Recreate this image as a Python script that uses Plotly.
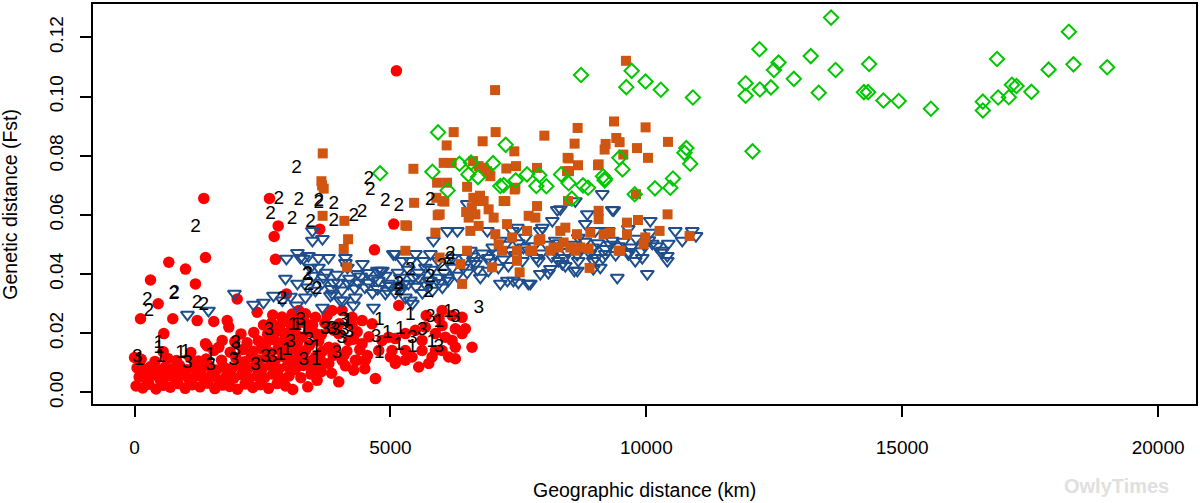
import plotly.graph_objects as go

# ---------------- data (geographic distance km, genetic distance Fst) ----------------
red_points = [
    (5117, 0.1087), (1354, 0.0656), (2637, 0.0656), (2807, 0.0563), (2729, 0.0527),
    (3620, 0.0552), (5065, 0.0569), (4688, 0.0482), (2754, 0.0450), (670, 0.0440),
    (996, 0.0417), (1387, 0.0456), (312, 0.0380), (1191, 0.0367), (463, 0.0300),
    (117, 0.0249), (748, 0.0249), (1224, 0.0243), (1549, 0.0240), (2006, 0.0316),
    (2396, 0.0271), (572, 0.0199), (1419, 0.0157), (2969, 0.0333), (3763, 0.0260),
    (5163, 0.0294), (1387, 0.0165), (1713, 0.0176), (1647, 0.0153), (1811, 0.0243),
    (1843, 0.0221),
    (6010, 0.0277), (6205, 0.0260), (6400, 0.0254), (6010, 0.0226), (6269, 0.0215),
    (6464, 0.0215), (6074, 0.0187), (6269, 0.0153), (6595, 0.0153), (6269, 0.0114),
    (5879, 0.0142), (5748, 0.0098), (5553, 0.0086), (5292, 0.0142), (5097, 0.0109),
    (5032, 0.0142), (4642, 0.0232), (4447, 0.0243), (4251, 0.0254), (4056, 0.0277),
    (3861, 0.0277), (3535, 0.0254), (3340, 0.0266), (3209, 0.0277), (4316, 0.0109),
    (4511, 0.0109), (4707, 0.0047), (3990, 0.0036), (4967, 0.0187), (5292, 0.0199),
    (5488, 0.0210), (5683, 0.0221), (5097, 0.0182), (4837, 0.0176), (4772, 0.0142),
    (5000, 0.0120), (5097, 0.0098), (5292, 0.0109), (5423, 0.0120), (5618, 0.0142),
    (5814, 0.0120), (6010, 0.0142), (6139, 0.0120), (6205, 0.0176), (6400, 0.0199),
    (5879, 0.0199), (5618, 0.0176), (3796, 0.0221), (3990, 0.0199), (4186, 0.0176),
    (4447, 0.0165), (3796, 0.0153), (3535, 0.0199), (3144, 0.0199), (3275, 0.0187),
    (3340, 0.0142), (3535, 0.0120), (3796, 0.0098), (4056, 0.0109), (3535, 0.0086),
    (3177, 0.0086), (3697, 0.0098), (4349, 0.0109), (4283, 0.0075), (3092, 0.0010),
    (3385, 0.0019), (3568, 0.0041), (2787, 0.0030), (5700, 0.0260), (5950, 0.0250),
    # dense band
    (30, 0.0022), (160, 0.0015), (280, 0.0028), (420, 0.0012), (560, 0.0024), (700, 0.0018),
    (850, 0.0030), (990, 0.0014), (1130, 0.0026), (1280, 0.0019), (1430, 0.0031), (1570, 0.0013),
    (1720, 0.0025), (1860, 0.0020), (2010, 0.0011), (2160, 0.0029), (2310, 0.0017), (2460, 0.0026),
    (2620, 0.0014), (2950, 0.0022),
    (90, 0.0052), (230, 0.0047), (360, 0.0058), (500, 0.0044), (640, 0.0055), (780, 0.0049),
    (920, 0.0061), (1060, 0.0045), (1200, 0.0056), (1350, 0.0050), (1500, 0.0059), (1640, 0.0043),
    (1790, 0.0054), (1940, 0.0048), (2090, 0.0060), (2240, 0.0046), (2390, 0.0055), (2540, 0.0050),
    (2700, 0.0062), (2860, 0.0047), (3020, 0.0056), (3250, 0.0050), (3450, 0.0062),
    (50, 0.0083), (190, 0.0078), (320, 0.0088), (460, 0.0075), (600, 0.0086), (740, 0.0080),
    (880, 0.0091), (1020, 0.0077), (1160, 0.0087), (1310, 0.0079), (1460, 0.0090), (1600, 0.0076),
    (1750, 0.0085), (1900, 0.0081), (2050, 0.0092), (2200, 0.0077), (2350, 0.0088), (2500, 0.0082),
    (2660, 0.0093), (2820, 0.0079), (2980, 0.0089), (3130, 0.0078), (3300, 0.0091), (3460, 0.0080),
    (3650, 0.0070), (3850, 0.0065), (4120, 0.0090), (4500, 0.0080),
    (0, 0.0118), (130, 0.0112), (400, 0.0105), (650, 0.0115), (820, 0.0108), (1080, 0.0119),
    (1250, 0.0106), (1400, 0.0113), (1700, 0.0109), (1980, 0.0117), (2150, 0.0104), (2280, 0.0121),
    (2430, 0.0110), (2580, 0.0118), (2740, 0.0106), (2900, 0.0122), (3060, 0.0111), (3200, 0.0118),
    (3400, 0.0106), (3620, 0.0117), (3880, 0.0125), (4100, 0.0128), (4550, 0.0125),
    (560, 0.0138), (1100, 0.0135), (1550, 0.0142), (1870, 0.0136), (2120, 0.0145), (2320, 0.0139),
    (2480, 0.0148), (2620, 0.0137), (2800, 0.0146), (2950, 0.0140), (3100, 0.0149), (3260, 0.0136),
    (3420, 0.0160), (3680, 0.0140), (3920, 0.0150), (4150, 0.0140), (4400, 0.0145),
    (1960, 0.0172), (2200, 0.0168), (2420, 0.0175), (2570, 0.0166), (2720, 0.0178), (2870, 0.0169),
    (3020, 0.0177), (3180, 0.0165), (3600, 0.0174), (4280, 0.0180), (4580, 0.0188),
    (2080, 0.0198), (2330, 0.0203), (2600, 0.0197), (2760, 0.0205), (2920, 0.0200), (3060, 0.0210),
    (3400, 0.0205), (3650, 0.0195), (3900, 0.0210), (4350, 0.0205),
    (2520, 0.0228), (2680, 0.0235), (2840, 0.0226), (3000, 0.0238), (3170, 0.0230), (3330, 0.0236),
    (3480, 0.0228), (3720, 0.0235), (4000, 0.0232), (4250, 0.0228),
    (2700, 0.0262), (2880, 0.0255), (3080, 0.0265), (3280, 0.0250),
]

blue_points = [
    (1035, 0.0263), (1445, 0.0277), (1953, 0.0334), (2324, 0.0297), (2519, 0.0304),
    (2715, 0.0327), (2890, 0.0311), (3047, 0.0324), (3164, 0.0294),
    (2968, 0.0452), (3183, 0.0472), (3300, 0.0452), (3476, 0.0546), (3476, 0.0513),
    (3672, 0.0519), (3437, 0.0422), (3594, 0.0422), (2949, 0.0385), (3183, 0.0368),
    (3379, 0.0355), (3691, 0.0388), (3886, 0.0371), (4121, 0.0438), (4160, 0.0422),
    (4355, 0.0401), (4550, 0.0404), (4746, 0.0412), (3672, 0.0287), (4668, 0.0287),
    (4277, 0.0294), (4023, 0.0311), (3828, 0.0327), (3535, 0.0344),
    (3242, 0.0455), (3398, 0.0462), (3594, 0.0455), (3789, 0.0455), (4121, 0.0455),
    (4453, 0.0435), (4843, 0.0412), (5097, 0.0468), (5234, 0.0445), (5488, 0.0468),
    (5683, 0.0422), (5937, 0.0445), (6210, 0.0455), (6464, 0.0455), (6660, 0.0435),
    (6914, 0.0455),
    (3672, 0.0371), (3984, 0.0371), (4179, 0.0368), (4374, 0.0371), (4570, 0.0371),
    (4765, 0.0378), (4961, 0.0368), (5156, 0.0355), (5351, 0.0368), (5547, 0.0388),
    (5742, 0.0378), (5937, 0.0388), (6130, 0.0378),
    (3339, 0.0321), (3867, 0.0334), (4082, 0.0311), (4316, 0.0321), (4648, 0.0337),
    (4902, 0.0334), (5097, 0.0337), (5292, 0.0321), (5429, 0.0300), (5625, 0.0337),
    (5820, 0.0344), (6015, 0.0355),
    (5058, 0.0468), (4804, 0.0412), (4941, 0.0344), (5195, 0.0344), (5390, 0.0311),
    (5840, 0.0513), (6113, 0.0546), (6308, 0.0546), (6503, 0.0637), (6621, 0.0445),
    (6914, 0.0412), (7109, 0.0422), (7285, 0.0378), (7500, 0.0371), (7734, 0.0368),
    (7929, 0.0401), (8125, 0.0418), (8359, 0.0435), (8652, 0.0412), (8964, 0.0445),
    (9101, 0.0422), (9433, 0.0388), (10019, 0.0401), (10410, 0.0445), (10566, 0.0546),
    (10077, 0.0580), (9140, 0.0671), (8847, 0.0603), (8320, 0.0620), (7929, 0.0546),
    (7480, 0.0557), (6894, 0.0546), (6562, 0.0479), (5644, 0.0445), (5390, 0.0445),
    (5781, 0.0468), (6113, 0.0445), (6210, 0.0422), (6425, 0.0422), (6757, 0.0388),
    (6113, 0.0388), (5781, 0.0378), (5449, 0.0388), (5195, 0.0388),
    (9335, 0.0617), (8261, 0.0617), (8613, 0.0647), (10898, 0.0546), (10410, 0.0462),
    (10312, 0.0479), (8964, 0.0418), (8593, 0.0412), (8417, 0.0428), (8085, 0.0404),
    (7695, 0.0368), (7402, 0.0378), (7148, 0.0368), (9921, 0.0455), (9784, 0.0445),
    (9648, 0.0468), (9199, 0.0468), (9003, 0.0455), (8671, 0.0445), (8281, 0.0445),
    (7890, 0.0445), (7578, 0.0445), (7304, 0.0428), (7968, 0.0557), (8164, 0.0580),
    (8808, 0.0570), (9003, 0.0546), (9257, 0.0546), (9648, 0.0553), (10077, 0.0540),
    (8671, 0.0523), (9335, 0.0513), (8222, 0.0513), (7636, 0.0523), (7382, 0.0546),
    (7148, 0.0513), (10116, 0.0503), (10429, 0.0503), (10702, 0.0513), (10970, 0.0529),
    (9363, 0.0616), (10293, 0.0473),
    (3500, 0.0395), (3750, 0.0405), (3950, 0.0398), (4200, 0.0385), (4420, 0.0392),
    (4680, 0.0385), (4900, 0.0395), (5150, 0.0405), (5350, 0.0415), (5550, 0.0405),
    (5800, 0.0415), (6050, 0.0405), (6300, 0.0395), (6500, 0.0405), (6700, 0.0415),
    (6950, 0.0440), (7200, 0.0450), (7450, 0.0465), (7700, 0.0480), (7950, 0.0470),
    (8200, 0.0480), (8450, 0.0475), (8700, 0.0485), (8950, 0.0490), (9200, 0.0485),
    (9450, 0.0495), (9700, 0.0490), (9950, 0.0500), (10200, 0.0495),
    (3850, 0.0350), (4050, 0.0345), (4300, 0.0352), (4500, 0.0355), (4750, 0.0350),
    (5000, 0.0360), (5250, 0.0365), (5500, 0.0358), (5700, 0.0362), (5950, 0.0370),
    (7000, 0.0490), (7250, 0.0500), (7500, 0.0505), (7800, 0.0495), (8050, 0.0500),
    (8300, 0.0505), (8550, 0.0500), (8800, 0.0510), (9050, 0.0505), (9300, 0.0500),
    (9550, 0.0510), (9800, 0.0520), (10050, 0.0515),
    (6600, 0.0460), (6800, 0.0470), (7050, 0.0470), (7350, 0.0480), (7600, 0.0490),
    (7850, 0.0455), (8150, 0.0460), (8400, 0.0455), (8650, 0.0465), (8900, 0.0470),
    (9150, 0.0455), (9400, 0.0465), (9650, 0.0475), (9900, 0.0478),
]

orange_points = [
    (9602, 0.1121), (7045, 0.1022), (6236, 0.0880), (7056, 0.0880), (8008, 0.0868),
    (9369, 0.0916), (8658, 0.0894), (9986, 0.0896), (10423, 0.0847), (6802, 0.0849),
    (6099, 0.0835), (7421, 0.0815), (8599, 0.0841), (9413, 0.0860), (9478, 0.0846),
    (9205, 0.0840), (9185, 0.0821), (9818, 0.0826), (10033, 0.0793), (9550, 0.0804),
    (8462, 0.0793), (8665, 0.0768), (9056, 0.0768), (3678, 0.0808), (3652, 0.0714),
    (3697, 0.0689), (3665, 0.0700), (3675, 0.0597), (4101, 0.0580), (4173, 0.0518),
    (4088, 0.0485), (4154, 0.0423), (5449, 0.0756), (6041, 0.0776), (6197, 0.0776),
    (6615, 0.0782), (6822, 0.0759), (6953, 0.0731), (7265, 0.0757), (7454, 0.0765),
    (7864, 0.0759), (8490, 0.0748), (5912, 0.0709), (6107, 0.0709), (6498, 0.0695),
    (7427, 0.0686), (9798, 0.0670), (5463, 0.0641), (5292, 0.0565), (6014, 0.0647),
    (5924, 0.0599), (5879, 0.0540), (6693, 0.0647), (6660, 0.0602), (6724, 0.0563),
    (6919, 0.0742), (6724, 0.0765), (6888, 0.0748), (7441, 0.0692), (8482, 0.0791),
    (8451, 0.0748), (9069, 0.0771),
    (5898, 0.0658), (5962, 0.0602), (6054, 0.0645), (5326, 0.0563), (5292, 0.0479),
    (5962, 0.0456), (6400, 0.0367),
    (6529, 0.0591), (6562, 0.0546), (6498, 0.0479), (6367, 0.0434), (6822, 0.0647),
    (6919, 0.0619), (7017, 0.0591), (7050, 0.0535), (7115, 0.0501), (6986, 0.0423),
    (7212, 0.0647), (7279, 0.0569), (7377, 0.0524), (7474, 0.0479), (7474, 0.0445),
    (7525, 0.0406), (7670, 0.0546), (7865, 0.0630), (7832, 0.0591), (7896, 0.0513),
    (7767, 0.0479), (8189, 0.0490), (8320, 0.0546), (8418, 0.0557), (8384, 0.0507),
    (8515, 0.0490), (8646, 0.0535), (8710, 0.0490), (8906, 0.0540), (8873, 0.0485),
    (9068, 0.0614), (9068, 0.0586), (9166, 0.0535), (9296, 0.0540), (9492, 0.0479),
    (9622, 0.0574), (9622, 0.0535), (9837, 0.0583), (9980, 0.0524), (9947, 0.0501),
    (10259, 0.0546), (10415, 0.0602), (8892, 0.0421), (10845, 0.0529), (7929, 0.0518),
    (8125, 0.0479), (8613, 0.0479), (9459, 0.0479), (7734, 0.0479), (8287, 0.0490),
    (7245, 0.0647), (7701, 0.0597), (8470, 0.0647), (7181, 0.0479),
    (6620, 0.0658), (6750, 0.0665), (6590, 0.0625), (6480, 0.0610),
]

green_points = [
    (13610, 0.1267), (18256, 0.1219), (12210, 0.1160), (13212, 0.1137), (16852, 0.1127),
    (14354, 0.1110), (12583, 0.1115), (12493, 0.1090), (13698, 0.1090), (18346, 0.1109),
    (19004, 0.1099), (17860, 0.1091), (12882, 0.1060), (11940, 0.1045), (11940, 0.1003),
    (12218, 0.1024), (12435, 0.1031), (13368, 0.1013), (14251, 0.1015), (14333, 0.1015),
    (14632, 0.0987), (14931, 0.0985), (15560, 0.0959), (16575, 0.0983), (16575, 0.0953),
    (16874, 0.0997), (17083, 0.0998), (17143, 0.1040), (17233, 0.1036), (17524, 0.1016),
    (10910, 0.0997), (10283, 0.1023), (9984, 0.1051), (9609, 0.1032), (9714, 0.1087),
    (12075, 0.0815), (10782, 0.0826), (10745, 0.0810), (10857, 0.0773), (9474, 0.0793),
    (9534, 0.0754), (9191, 0.0722), (10521, 0.0723), (10468, 0.0692), (10169, 0.0690),
    (9773, 0.0670),
    (8724, 0.1073), (5931, 0.0879), (7252, 0.0837), (4798, 0.0741), (5820, 0.0746),
    (6348, 0.0773), (6575, 0.0777), (7005, 0.0775), (6523, 0.0737), (6712, 0.0728),
    (7148, 0.0698), (7213, 0.0701), (7447, 0.0717), (7669, 0.0737), (7910, 0.0734),
    (7851, 0.0698), (8047, 0.0697), (8334, 0.0737), (8482, 0.0707), (8763, 0.0700),
    (8861, 0.0692), (9154, 0.0731), (9186, 0.0717), (6119, 0.0683), (8545, 0.0655),
]

label_ones = [
    (84, 0.0109), (475, 0.0165), (475, 0.0150), (508, 0.0120), (898, 0.0131), (996, 0.0137),
    (1484, 0.0126), (2851, 0.0126), (2982, 0.0142), (3099, 0.0226), (3177, 0.0226),
    (3307, 0.0215), (3554, 0.0153), (3554, 0.0109), (4784, 0.0243), (4940, 0.0199),
    (4784, 0.0131), (5195, 0.0215), (5163, 0.0159), (5390, 0.0260), (5429, 0.0153),
    (5946, 0.0237), (5808, 0.0170), (6132, 0.0272), (4160, 0.0240),
]
label_twos = [
    (1191, 0.0559), (3164, 0.0759), (2819, 0.0653), (3209, 0.0649), (3599, 0.0641),
    (3599, 0.0645), (3892, 0.0636), (2657, 0.0604), (3080, 0.0586), (3437, 0.0577),
    (3892, 0.0580), (4283, 0.0597), (4447, 0.0608), (4577, 0.0720), (4609, 0.0683),
    (4902, 0.0647), (5781, 0.0650), (5163, 0.0630), (248, 0.0311), (280, 0.0274),
    (767, 0.0333), (780, 0.0337), (1224, 0.0300), (1354, 0.0294), (2884, 0.0316),
    (3372, 0.0395), (3385, 0.0399), (3405, 0.0361), (3568, 0.0350), (5390, 0.0412),
    (5781, 0.0389), (5748, 0.0339), (5163, 0.0367), (5163, 0.0344), (6010, 0.0428),
    (6171, 0.0451), (6171, 0.0468),
]
label_threes = [
    (52, 0.0120), (1029, 0.0098), (1484, 0.0092), (1972, 0.0165), (1972, 0.0142),
    (1939, 0.0109), (2363, 0.0092), (2558, 0.0120), (2689, 0.0120), (2623, 0.0210),
    (3047, 0.0170), (3242, 0.0243), (3405, 0.0176), (3307, 0.0109), (3724, 0.0215),
    (3854, 0.0215), (3952, 0.0131), (4081, 0.0243), (4101, 0.0210), (4049, 0.0182),
    (4719, 0.0187), (5429, 0.0182), (5625, 0.0210), (5781, 0.0254), (5946, 0.0153),
    (6269, 0.0254), (6725, 0.0283), (3730, 0.0215), (3925, 0.0210), (4185, 0.0204),
]

x_tick_values = [0, 5000, 10000, 15000, 20000]
x_tick_labels = ["0", "5000", "10000", "15000", "20000"]
y_tick_values = [0.00, 0.02, 0.04, 0.06, 0.08, 0.10, 0.12]
y_tick_labels = ["0.00", "0.02", "0.04", "0.06", "0.08", "0.10", "0.12"]

x_title = "Geographic distance (km)"
y_title = "Genetic distance (Fst)"
watermark = "OwlyTimes"

FONT = "Liberation Sans, Arial, sans-serif"


def xs(pts):
    return [p[0] for p in pts]


def ys(pts):
    return [p[1] for p in pts]


fig = go.Figure()

fig.add_trace(go.Scatter(
    x=xs(red_points), y=ys(red_points), mode="markers",
    marker=dict(symbol="circle", size=11.5, color="#FF0000", line=dict(width=0)),
    hoverinfo="skip", showlegend=False))

fig.add_trace(go.Scatter(
    x=xs(blue_points), y=ys(blue_points), mode="markers",
    marker=dict(symbol="triangle-down-open", size=11.5, color="#1F4E8C",
                line=dict(width=2, color="#1F4E8C")),
    hoverinfo="skip", showlegend=False))

fig.add_trace(go.Scatter(
    x=xs(orange_points), y=ys(orange_points), mode="markers",
    marker=dict(symbol="square", size=10, color="#CF5510", line=dict(width=0)),
    hoverinfo="skip", showlegend=False))

fig.add_trace(go.Scatter(
    x=xs(green_points), y=ys(green_points), mode="markers",
    marker=dict(symbol="diamond-open", size=11, color="#00C800",
                line=dict(width=2, color="#00C800")),
    hoverinfo="skip", showlegend=False))

for pts, txt in ((label_ones, "1"), (label_twos, "2"), (label_threes, "3")):
    fig.add_trace(go.Scatter(
        x=xs(pts), y=ys(pts), mode="text", text=[txt] * len(pts),
        textposition="middle center",
        textfont=dict(family=FONT, size=19, color="#000000"),
        hoverinfo="skip", showlegend=False))

axis_common = dict(
    showgrid=False, zeroline=False, showline=True, mirror=True,
    linecolor="#000000", linewidth=1.6,
    ticks="outside", ticklen=11, tickwidth=1.6, tickcolor="#000000",
    tickfont=dict(family=FONT, size=19, color="#000000"),
)

fig.update_layout(
    width=1200, height=503,
    margin=dict(l=93, r=4, t=2, b=99),
    paper_bgcolor="#FFFFFF", plot_bgcolor="#FFFFFF",
    xaxis=dict(range=[-811, 20740], tickvals=x_tick_values, ticktext=x_tick_labels,
               ticklabelstandoff=14, **axis_common),
    yaxis=dict(range=[-0.0039, 0.1313], tickvals=y_tick_values, ticktext=y_tick_labels,
               tickangle=-90, ticklabelstandoff=10, **axis_common),
    annotations=[
        dict(text=x_title, xref="paper", yref="paper", x=0.5, y=-0.216,
             xanchor="center", yanchor="middle", showarrow=False,
             font=dict(family=FONT, size=19.5, color="#000000")),
        dict(text=y_title, xref="paper", yref="paper", x=-0.0755, y=0.5,
             xanchor="center", yanchor="middle", textangle=-90, showarrow=False,
             font=dict(family=FONT, size=19.5, color="#000000")),
        dict(text="<b>" + watermark + "</b>", xref="paper", yref="paper", x=0.928, y=-0.205,
             xanchor="center", yanchor="middle", showarrow=False,
             font=dict(family=FONT, size=20, color="#E0E0E0")),
    ],
)

fig.write_html("out.html")
